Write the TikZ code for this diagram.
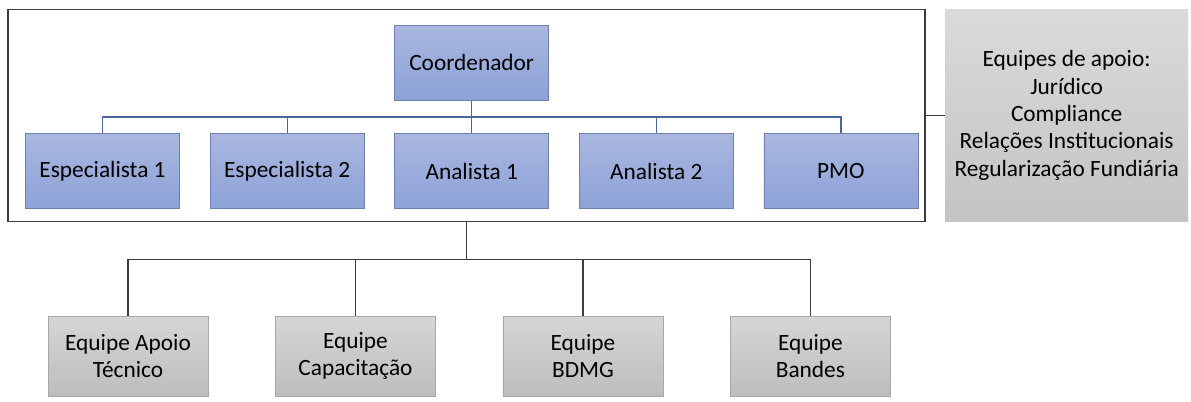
\documentclass[tikz,border=0pt]{standalone}
\usepackage{fontspec}
\setmainfont{Carlito}
\usetikzlibrary{positioning, calc}

\definecolor{roletop}{HTML}{A9B7E0}
\definecolor{rolebot}{HTML}{8DA2D7}
\definecolor{roleline}{HTML}{6F80AE}
\definecolor{teamtop}{HTML}{D6D6D6}
\definecolor{teambot}{HTML}{BDBDBD}
\definecolor{teamline}{HTML}{A8A8A8}
\definecolor{busblue}{HTML}{4A65A0}
\definecolor{framegray}{HTML}{3C3C3C}

\begin{document}
\begin{tikzpicture}[
  x=0.75pt, y=-0.75pt,
  role/.style={draw=roleline, line width=0.6pt, top color=roletop, bottom color=rolebot,
               minimum width=115.5pt, minimum height=56.5pt, inner sep=2pt,
               align=center, font=\fontsize{17.5}{20.5}\selectfont},
  team/.style={draw=teamline, line width=0.6pt, top color=teamtop, bottom color=teambot,
               minimum width=120pt, minimum height=60pt, inner sep=2pt,
               align=center, font=\fontsize{17.5}{20.5}\selectfont},
  support/.style={top color=teamtop!90, bottom color=teambot!90!white, draw=none,
                  minimum width=182.25pt, minimum height=159pt,
                  align=center, font=\fontsize{17.5}{20.5}\selectfont},
  framebox/.style={draw=framegray, line width=1.3pt, minimum width=687.75pt, minimum height=159pt},
  bus/.style={draw=busblue, line width=0.9pt},
  link/.style={draw=framegray, line width=1pt},
]
\useasboundingbox (0,0) rectangle (1191,401);

% --- Coordination team frame ---
\node[framebox] (frame) at (466.5,115.5) {};

% --- Roles ---
\node[role] (esp1) at (102.5,171) {Especialista 1};
\node[role, right=22.35pt of esp1] (esp2) {Especialista 2};
\node[role, right=22.35pt of esp2] (ana1) {Analista 1};
\node[role, right=22.35pt of ana1] (ana2) {Analista 2};
\node[role, right=22.35pt of ana2] (pmo) {PMO};
\node[role, above=24pt of ana1] (coord) {Coordenador};

% --- Support teams ---
\node[support, right=14.25pt of frame] (apoio)
  {Equipes de apoio:\\Jurídico\\Compliance\\Relações Institucionais\\Regularização Fundiária};

% --- Executing teams ---
\node[team] (tec) at (128,356) {Equipe Apoio\\Técnico};
\node[team, right=50pt of tec] (cap) {Equipe\\Capacitação};
\node[team, right=50pt of cap] (bdmg) {Equipe\\BDMG};
\node[team, right=50pt of bdmg] (bandes) {Equipe\\Bandes};

% --- Connectors ---
\coordinate (busA) at ($(coord.south)!0.5!(ana1.north)$);
\draw[bus] (coord.south) -- (busA);
\foreach \n in {esp1, esp2, ana1, ana2, pmo}
  \draw[bus] (busA) -| (\n.north);

\draw[link] (frame.east) -- (frame.east -| apoio.west);

\coordinate (busB) at ($(frame.south)+(0,37)$);
\draw[link] (frame.south) -- (busB);
\foreach \n in {tec, cap, bdmg, bandes}
  \draw[link] (busB) -| (\n.north);

\end{tikzpicture}
\end{document}
